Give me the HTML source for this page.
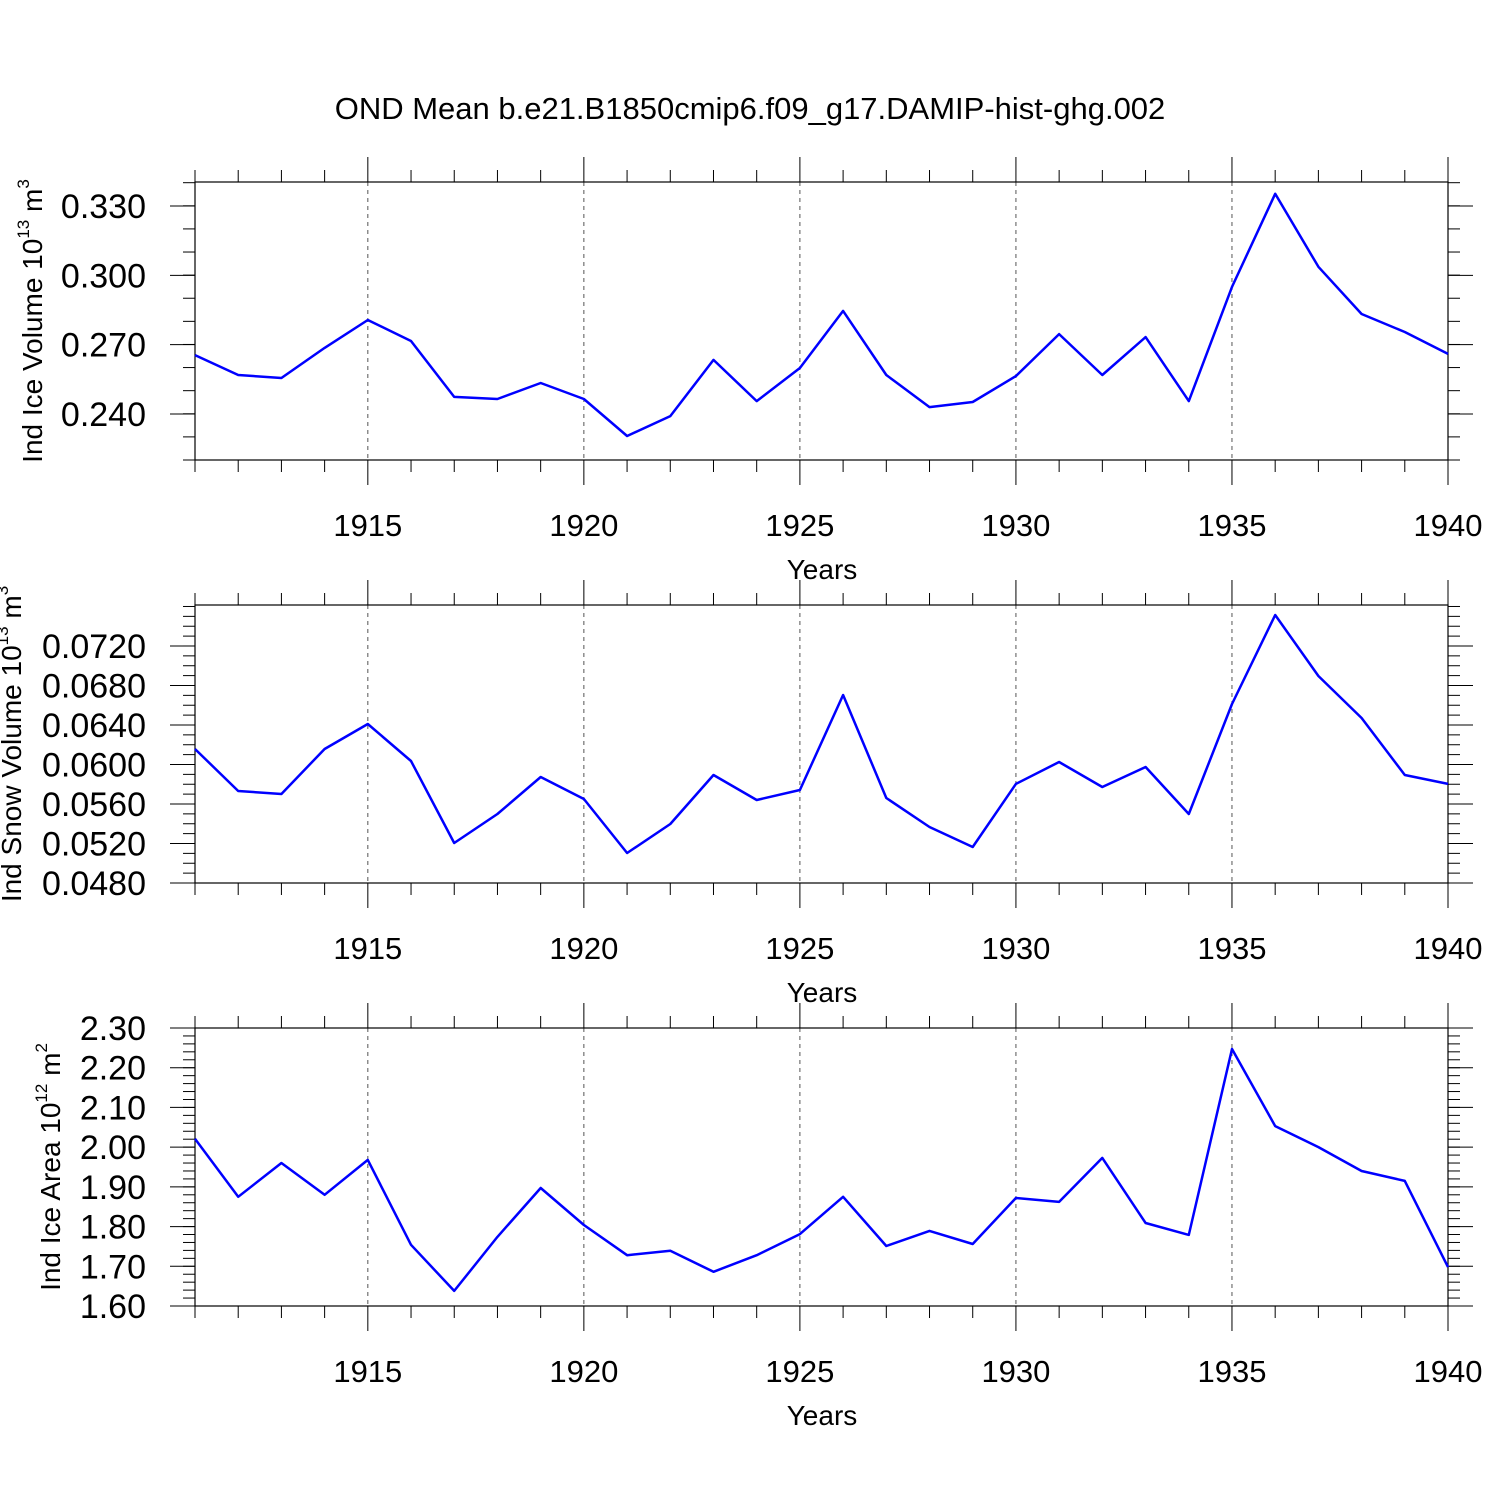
<!DOCTYPE html>
<html><head><meta charset="utf-8"><style>
html,body{margin:0;padding:0;background:#fff;}
svg{display:block;font-family:"Liberation Sans",Arial,sans-serif;}
</style></head><body>
<svg id="chart" width="1500" height="1500" viewBox="0 0 1500 1500" xmlns="http://www.w3.org/2000/svg">
<rect width="1500" height="1500" fill="#fff"/>
<text x="750" y="119" font-size="31" text-anchor="middle">OND Mean b.e21.B1850cmip6.f09_g17.DAMIP-hist-ghg.002</text>
</svg>
<script>
const years = [1911,1912,1913,1914,1915,1916,1917,1918,1919,1920,1921,1922,1923,1924,1925,1926,1927,1928,1929,1930,1931,1932,1933,1934,1935,1936,1937,1938,1939,1940];
const xTickLabels = [1915,1920,1925,1930,1935,1940];
const iceVolume = [0.2655,0.2569,0.2556,0.2686,0.2807,0.2716,0.2474,0.2465,0.2534,0.2465,0.2305,0.2391,0.2634,0.2456,0.2599,0.2846,0.2569,0.2430,0.2452,0.2564,0.2746,0.2569,0.2733,0.2456,0.2950,0.3353,0.3037,0.2833,0.2755,0.2660];
const snowVolume = [0.06157,0.05732,0.05701,0.06157,0.0641,0.06035,0.05205,0.05499,0.05873,0.05651,0.05104,0.05397,0.05894,0.0564,0.05742,0.06704,0.05661,0.05367,0.05165,0.05803,0.06025,0.05772,0.05975,0.05499,0.06613,0.07514,0.06896,0.06471,0.05894,0.05803];
const iceArea = [2.021,1.875,1.960,1.880,1.968,1.754,1.638,1.774,1.897,1.804,1.728,1.739,1.686,1.728,1.781,1.875,1.751,1.789,1.756,1.872,1.862,1.973,1.809,1.779,2.247,2.053,2.000,1.940,1.915,1.698];
const iceVolTicks = ["0.240","0.270","0.300","0.330"];
const snowTicks = ["0.0480","0.0520","0.0560","0.0600","0.0640","0.0680","0.0720"];
const areaTicks = ["1.60","1.70","1.80","1.90","2.00","2.10","2.20","2.30"];

const NS = "http://www.w3.org/2000/svg";
const svg = document.getElementById('chart');
const X0 = 195, X1 = 1448;
function xScale(yr){ return X0 + (yr - years[0]) / (years[years.length-1] - years[0]) * (X1 - X0); }
function mk(tag, attrs, parent){
  const e = document.createElementNS(NS, tag);
  for (const k in attrs) e.setAttribute(k, attrs[k]);
  (parent || svg).appendChild(e);
  return e;
}
function panel(name, top, bot, ymin, ymax, ticks, minorStep, values, titleMain, sup, titleCx){
  const g = mk('g', {});
  
  
  const yS = v => bot - (v - ymin) / (ymax - ymin) * (bot - top);
  xTickLabels.slice(0, -1).forEach(yr => {
    const l = mk('line', {x1:xScale(yr), x2:xScale(yr), y1:top, y2:bot, stroke:'#555', 'stroke-width':1, 'stroke-dasharray':'4,4'}, g);
    
    
  });
  years.forEach(yr => {
    const major = xTickLabels.includes(yr);
    const len = major ? 25 : 12;
    const x = xScale(yr);
    mk('line', {x1:x, x2:x, y1:top-len, y2:top, stroke:'#000', 'stroke-width':1}, g);
    mk('line', {x1:x, x2:x, y1:bot, y2:bot+len, stroke:'#000', 'stroke-width':1}, g);
  });
  xTickLabels.forEach(yr => {
    const t = mk('text', {x:xScale(yr), y:bot+76, 'font-size':31, 'text-anchor':'middle'}, g);
    t.textContent = yr;
    
    
  });
  const xt = mk('text', {x:822, y:bot+119, 'font-size':28, 'text-anchor':'middle'}, g);
  xt.textContent = 'Years';
  
  
  const nMin = Math.round((ymax - ymin) / minorStep);
  for (let i = 0; i <= nMin; i++) {
    const v = ymin + i * minorStep, y = yS(v);
    if (y < top - 0.5 || y > bot + 0.5) continue;
    mk('line', {x1:X0-12, x2:X0, y1:y, y2:y, stroke:'#000', 'stroke-width':1}, g);
    mk('line', {x1:X1, x2:X1+12, y1:y, y2:y, stroke:'#000', 'stroke-width':1}, g);
  }
  ticks.forEach(s => {
    const y = yS(parseFloat(s));
    mk('line', {x1:X0-25, x2:X0, y1:y, y2:y, stroke:'#000', 'stroke-width':1}, g);
    mk('line', {x1:X1, x2:X1+25, y1:y, y2:y, stroke:'#000', 'stroke-width':1}, g);
    const t = mk('text', {x:146, y:y+12, 'font-size':34, 'text-anchor':'end'}, g);
    t.textContent = s;
    
    
  });
  const fr = mk('rect', {x:X0, y:top, width:X1-X0, height:bot-top, fill:'none', stroke:'#000', 'stroke-width':1.2}, g);
  
  
  const pts = values.map((v, i) => xScale(years[i]).toFixed(1) + ',' + yS(v).toFixed(1)).join(' ');
  const pl = mk('polyline', {points:pts, fill:'none', stroke:'#0000ff', 'stroke-width':2.5, 'stroke-linejoin':'round'}, g);
  
  
  const cy = (top + bot) / 2;
  const yt = mk('text', {x:titleCx, y:cy, 'font-size':28, 'text-anchor':'middle', transform:'rotate(-90 '+titleCx+' '+cy+')'}, g);
  
  
  const t1 = mk('tspan', {}, yt); t1.textContent = titleMain;
  const t2 = mk('tspan', {dy:-13, 'font-size':17}, yt); t2.textContent = sup[0];
  const t3 = mk('tspan', {dy:13}, yt); t3.textContent = ' ' + sup[1];
  const t4 = mk('tspan', {dy:-13, 'font-size':17}, yt); t4.textContent = sup[2];
}
panel('ice-volume', 182, 460, 0.2201, 0.3404, iceVolTicks, 0.01, iceVolume, 'Ind Ice Volume 10', ['13','m','3'], 42);
panel('snow-volume', 605, 883, 0.048, 0.07615, snowTicks, 0.001, snowVolume, 'Ind Snow Volume 10', ['13','m','3'], 21);
panel('ice-area', 1028, 1306, 1.60, 2.30, areaTicks, 0.02, iceArea, 'Ind Ice Area 10', ['12','m','2'], 60);
</script>
</body></html>
